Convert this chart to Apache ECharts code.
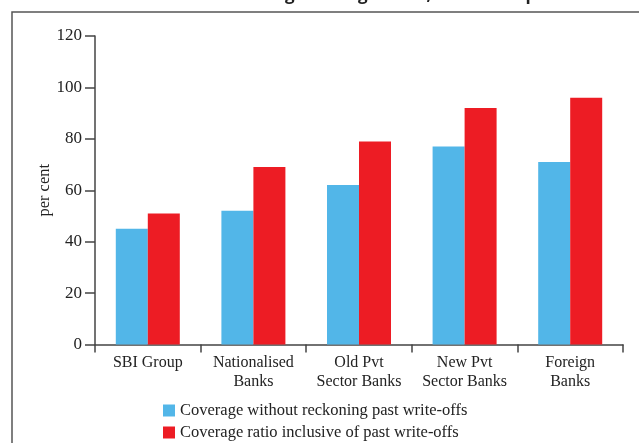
<!DOCTYPE html>
<html><head><meta charset="utf-8">
<script src="https://cdn.jsdelivr.net/npm/echarts@6/dist/echarts.min.js"></script>
<style>html,body{margin:0;padding:0;background:#fff}#c{width:639px;height:443px}</style>
</head><body><div id="c"></div>
<script>
const categories = ['SBI Group', 'Nationalised\nBanks', 'Old Pvt\nSector Banks', 'New Pvt\nSector Banks', 'Foreign\nBanks'];
const seriesNames = ['Coverage without reckoning past write-offs', 'Coverage ratio inclusive of past write-offs'];
const withoutWriteOffs = [45, 52, 62, 77, 71];
const inclusiveWriteOffs = [51, 69, 79, 92, 96];
const yTicks = [0, 20, 40, 60, 80, 100, 120];
const titleText = 'Chart 2.17: Provisioning Coverage Ratio, Bank Groups';

const font = 'Liberation Serif';
const axisColor = '#444';
const legendBase = {
  orient: 'vertical', left: 158, icon: 'rect', itemWidth: 12, itemHeight: 12,
  textStyle: {fontFamily: font, fontSize: 16.5, color: '#222'}
};
const chart = echarts.init(document.getElementById('c'), null, {renderer: 'canvas'});
chart.setOption({
  animation: false,
  graphic: [
    {type: 'rect', shape: {x: 12, y: 12, width: 700, height: 500}, style: {fill: 'none', stroke: '#555', lineWidth: 1.5}, z: 0},
    {type: 'text', left: 'center', top: -13, style: {text: titleText, font: 'bold 17px "Open Sans"', fill: '#222'}}
  ],
  grid: {left: 95, right: 16, top: 36, bottom: 98.5},
  legend: [
    Object.assign({}, legendBase, {top: 397, data: [seriesNames[0]]}),
    Object.assign({}, legendBase, {top: 419, data: [seriesNames[1]]})
  ],
  xAxis: {
    type: 'category', data: categories,
    axisLine: {lineStyle: {color: axisColor, width: 1.5}},
    axisTick: {show: true, inside: false, length: 8, lineStyle: {color: axisColor, width: 1.5}},
    axisLabel: {fontFamily: font, fontSize: 16, color: '#222', lineHeight: 19, margin: 9, interval: 0}
  },
  yAxis: {
    type: 'value', min: yTicks[0], max: yTicks[yTicks.length - 1], interval: 20,
    name: 'per cent', nameLocation: 'middle', nameGap: 42, nameMoveOverlap: false,
    nameTextStyle: {fontFamily: font, fontSize: 16.5, color: '#222'},
    splitLine: {show: false},
    axisLine: {show: true, lineStyle: {color: axisColor, width: 1.5}},
    axisTick: {show: true, inside: false, length: 10, lineStyle: {color: axisColor, width: 1.5}},
    axisLabel: {fontFamily: font, fontSize: 17, color: '#222', margin: 13}
  },
  series: [
    {name: seriesNames[0], type: 'bar', data: withoutWriteOffs, barWidth: 32, barGap: '0%', itemStyle: {color: '#52B6E8'}},
    {name: seriesNames[1], type: 'bar', data: inclusiveWriteOffs, barWidth: 32, barGap: '0%', itemStyle: {color: '#ED1C24'}}
  ]
});
</script></body></html>
